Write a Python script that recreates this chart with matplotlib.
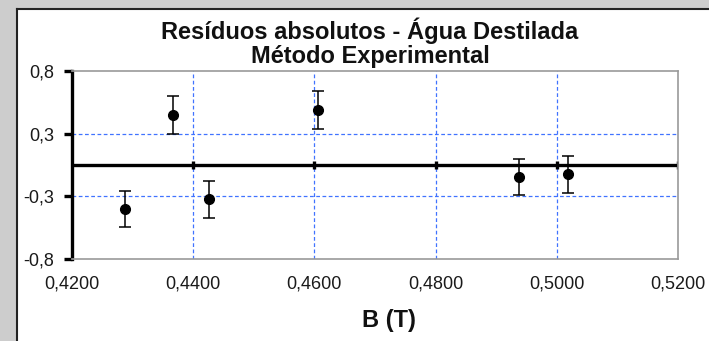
import matplotlib
matplotlib.use("Agg")
import matplotlib.pyplot as plt
from matplotlib.patches import Rectangle
from matplotlib.ticker import FixedLocator, FixedFormatter

# residuals
b_field = [0.4287, 0.4367, 0.4426, 0.4606, 0.4938, 0.5018]
residuo = [-0.35, 0.40, -0.275, 0.44, -0.095, -0.075]
erro = [0.145, 0.15, 0.15, 0.15, 0.145, 0.15]

x_ticks = [0.42, 0.44, 0.46, 0.48, 0.50, 0.52]
x_labels = ["0,4200", "0,4400", "0,4600", "0,4800", "0,5000", "0,5200"]
y_ticks = [-0.75, -0.25, 0.25, 0.75]
y_labels = ["-0,8", "-0,3", "0,3", "0,8"]

plt.rcParams['font.family'] = ['Liberation Sans', 'DejaVu Sans']

W, H = 709, 341
fig = plt.figure(figsize=(W/100, H/100), dpi=100)
fig.patch.set_facecolor('#cdcdcd')

# white chart panel with dark edge
panel = Rectangle((17/W, 0), 1, 1 - 9/H, transform=fig.transFigure,
                  facecolor='white', edgecolor='none', zorder=-10)
fig.add_artist(panel)
fig.add_artist(plt.Line2D([17/W, 17/W], [0, 1 - 9/H], color='#222222', lw=1.5,
                          transform=fig.transFigure, zorder=-9))
fig.add_artist(plt.Line2D([17/W, 1], [1 - 9/H, 1 - 9/H], color='#222222', lw=1.5,
                          transform=fig.transFigure, zorder=-9))

ax = fig.add_axes([72/W, 1 - 259/H, (678 - 72)/W, (259 - 71)/H])
ax.set_facecolor('white')
ax.set_xlim(0.42, 0.52)
ax.set_ylim(-0.75, 0.75)

grid_c = '#4073ff'
for xv in x_ticks[1:-1]:
    ax.axvline(xv, color=grid_c, ls=(0, (3, 2)), lw=0.9, zorder=1)
for yv in [-0.25, 0.25]:
    ax.axhline(yv, color=grid_c, ls=(0, (3, 2)), lw=0.9, zorder=1)

# x axis crossing at zero
ax.axhline(0, color='black', lw=2.4, zorder=2)
for xv in x_ticks[1:]:
    ax.plot([xv, xv], [-0.035, 0.035], color='black', lw=2.4, zorder=2,
            solid_capstyle='butt')

ax.errorbar(b_field, residuo, yerr=erro, fmt='o', color='black', ms=7,
            ecolor='black', elinewidth=1.1, capsize=4.5, capthick=1.1, zorder=3)

for s in ['top', 'right', 'bottom']:
    ax.spines[s].set_color('#9a9a9a')
    ax.spines[s].set_linewidth(1.2)
ax.spines['left'].set_color('black')
ax.spines['left'].set_linewidth(2.4)

ax.xaxis.set_major_locator(FixedLocator(x_ticks))
ax.xaxis.set_major_formatter(FixedFormatter(x_labels))
ax.yaxis.set_major_locator(FixedLocator(y_ticks))
ax.yaxis.set_major_formatter(FixedFormatter(y_labels))
ax.tick_params(axis='x', length=0, pad=12, labelsize=13, labelcolor='#1a1a1a')
ax.tick_params(axis='y', length=6, width=2.4, direction='out', pad=7,
               labelsize=13, labelcolor='#1a1a1a')

fig.text(370/W, 1 - 31/H, "Resíduos absolutos - Água Destilada", ha='center',
         va='center', fontsize=17, fontweight='bold', color='#111111')
fig.text(370/W, 1 - 56/H, "Método Experimental", ha='center',
         va='center', fontsize=17, fontweight='bold', color='#111111')
fig.text(389/W, 1 - 320/H, "B (T)", ha='center', va='center',
         fontsize=17, fontweight='bold', color='#111111')

fig.savefig('out.png', dpi=100, facecolor=fig.get_facecolor())
